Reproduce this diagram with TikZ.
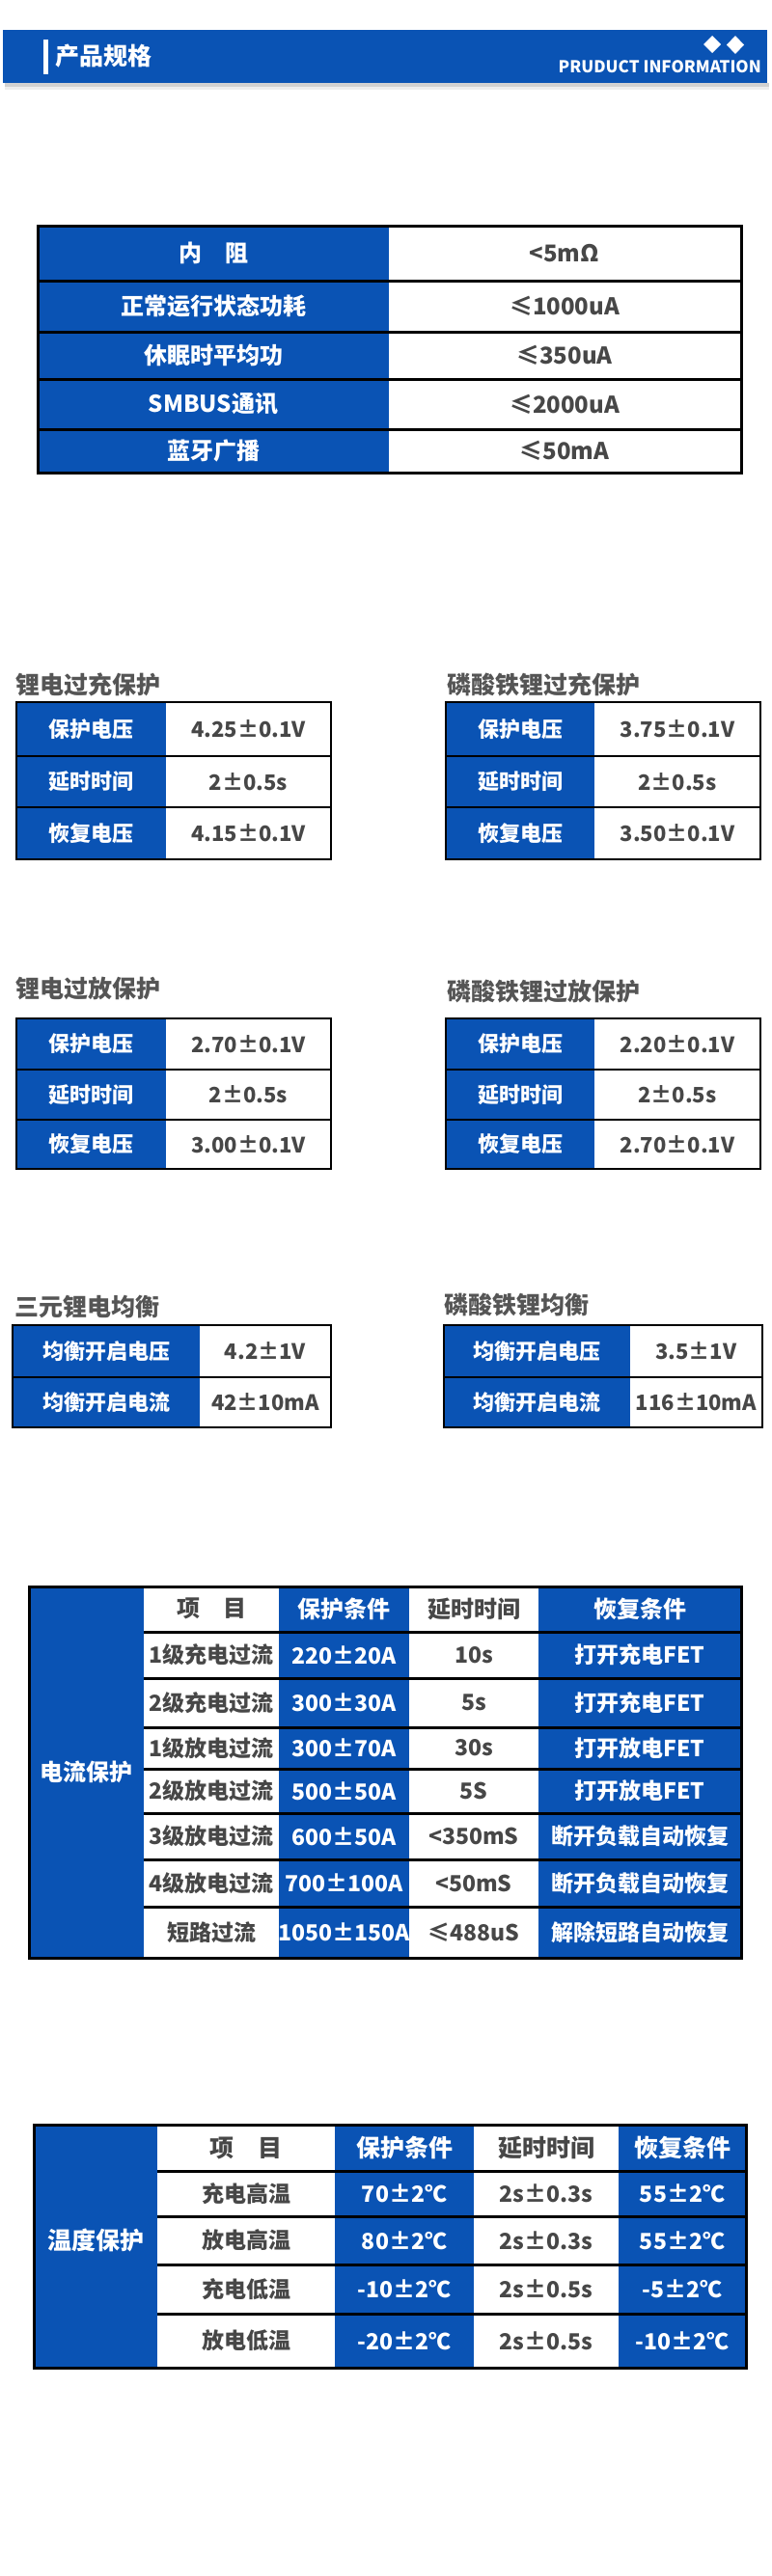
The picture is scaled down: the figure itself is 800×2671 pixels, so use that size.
\documentclass[tikz,border=0pt]{standalone}
\usepackage{fontspec}
\setmainfont{Noto Sans CJK SC}
\definecolor{specblue}{HTML}{0A53B4}
\definecolor{valgray}{HTML}{474747}
\definecolor{ttlgray}{HTML}{555555}
\tikzset{
  lab/.style={inner sep=0pt,text=white,font=\bfseries\fontsize{#1}{#1}\selectfont},
  lab/.default=22,
  val/.style={inner sep=0pt,text=valgray,font=\bfseries\fontsize{#1}{#1}\selectfont},
  val/.default=22,
  ttl/.style={inner sep=0pt,anchor=west,text=ttlgray,font=\bfseries\fontsize{25}{25}\selectfont},
  rule/.style={line width=#1},
  rule/.default=2.5pt
}
\begin{document}
\begin{tikzpicture}[x=1pt,y=-1pt]
\useasboundingbox (0,0) rectangle (800,2671);
% header band
\fill[black!18] (5,86) rectangle (797,90);
\fill[black!7] (5,90) rectangle (797,93);
\fill[specblue] (3,31) rectangle (795,86);
\fill[white] (45,41) rectangle (50,77);
\node[lab=25,anchor=west] (hdr) at (57,58) {产品规格};
\fill[white] (738,37) -- (747,46) -- (738,55) -- (729,46) -- cycle;
\fill[white] (762,37) -- (771,46.5) -- (762,56) -- (753,46.5) -- cycle;
\node[lab=17,anchor=east] (hdrsub) at (789,69) {PRUDUCT INFORMATION};
% main specs
\fill[specblue] (39,234) rectangle (403,490);
\foreach \ya/\yb/\tl/\tv [count=\i] in {234/291/{内\quad 阻}/{<5mΩ},291/344/正常运行状态功耗/{≤1000uA},
  344/393/休眠时平均功/{≤350uA},393/445/SMBUS通讯/{≤2000uA},445/490/蓝牙广播/{≤50mA}} {
  \node[lab=24] (specl\i) at (221,{(\ya+\yb)/2}) {\tl};
  \node[val=24] (specv\i) at (585,{(\ya+\yb)/2}) {\tv};
  \draw[rule=3pt] (39,\yb) -- (768,\yb);
}
\draw[rule=3pt] (39,234) rectangle (768,490);
% charge / discharge
\node[ttl] (tlic) at (16,710) {锂电过充保护};
\node[ttl] (tlfc) at (463,710) {磷酸铁锂过充保护};
\node[ttl] (tlid) at (16,1025) {锂电过放保护};
\node[ttl] (tlfd) at (463,1028) {磷酸铁锂过放保护};
\foreach \xa/\xs/\xb/\ya/\yb/\yc/\yd/\va/\vb/\vc/\nm in {
  17/172/343/728/784/837/891/{4.25±0.1V}/{2±0.5s}/{4.15±0.1V}/lic,
  462/616/788/728/784/837/891/{3.75±0.1V}/{2±0.5s}/{3.50±0.1V}/lfc,
  17/172/343/1056/1109/1161/1212/{2.70±0.1V}/{2±0.5s}/{3.00±0.1V}/lid,
  462/616/788/1056/1109/1161/1212/{2.20±0.1V}/{2±0.5s}/{2.70±0.1V}/lfd} {
  \fill[specblue] (\xa,\ya) rectangle (\xs,\yd);
  \node[lab] (\nm l1) at ({(\xa+\xs)/2},{(\ya+\yb)/2}) {保护电压};
  \node[lab] (\nm l2) at ({(\xa+\xs)/2},{(\yb+\yc)/2}) {延时时间};
  \node[lab] (\nm l3) at ({(\xa+\xs)/2},{(\yc+\yd)/2}) {恢复电压};
  \node[val] (\nm v1) at ({(\xs+\xb)/2},{(\ya+\yb)/2}) {\va};
  \node[val] (\nm v2) at ({(\xs+\xb)/2},{(\yb+\yc)/2}) {\vb};
  \node[val] (\nm v3) at ({(\xs+\xb)/2},{(\yc+\yd)/2}) {\vc};
  \draw[rule] (\xa,\yb) -- (\xb,\yb) (\xa,\yc) -- (\xb,\yc);
  \draw[rule] (\xa,\ya) rectangle (\xb,\yd);
}
% balance
\node[ttl] (tlib) at (15,1355) {三元锂电均衡};
\node[ttl] (tlfb) at (460,1353) {磷酸铁锂均衡};
\foreach \xa/\xs/\xb/\va/\vb/\nm in {13/207/343/{4.2±1V}/{42±10mA}/lib,460/653/790/{3.5±1V}/{116±10mA}/lfb} {
  \fill[specblue] (\xa,1374) rectangle (\xs,1480);
  \node[lab] (\nm l1) at ({(\xa+\xs)/2},1401) {均衡开启电压};
  \node[lab] (\nm l2) at ({(\xa+\xs)/2},1454) {均衡开启电流};
  \node[val] (\nm v1) at ({(\xs+\xb)/2},1401) {\va};
  \node[val] (\nm v2) at ({(\xs+\xb)/2},1454) {\vb};
  \draw[rule] (\xa,1428) -- (\xb,1428);
  \draw[rule] (\xa,1374) rectangle (\xb,1480);
}
% current protection
\fill[specblue] (30,1645) rectangle (149,2030);
\fill[specblue] (289,1645) rectangle (424,2030);
\fill[specblue] (558,1645) rectangle (768,2030);
\node[lab=24] (cur) at (89.5,1837) {电流保护};
\node[val=24] (curh1) at (219,1668) {项\quad 目};
\node[lab=24] (curh2) at (356.5,1668) {保护条件};
\node[val=24] (curh3) at (491,1668) {延时时间};
\node[lab=24] (curh4) at (663,1668) {恢复条件};
\foreach \ya/\yb/\ca/\cb/\cc/\cd [count=\i] in {1692/1740/1级充电过流/{220±20A}/10s/打开充电FET,
  1740/1791/2级充电过流/{300±30A}/5s/打开充电FET,1791/1834/1级放电过流/{300±70A}/30s/打开放电FET,
  1834/1880/2级放电过流/{500±50A}/5S/打开放电FET,1880/1928/3级放电过流/{600±50A}/{<350mS}/断开负载自动恢复,
  1928/1977/4级放电过流/{700±100A}/{<50mS}/断开负载自动恢复,1977/2030/短路过流/{1050±150A}/{≤488uS}/解除短路自动恢复} {
  \node[val=23] (cura\i) at (219,{(\ya+\yb)/2}) {\ca};
  \node[lab=23] (curb\i) at (356.5,{(\ya+\yb)/2}) {\cb};
  \node[val=23] (curc\i) at (491,{(\ya+\yb)/2}) {\cc};
  \node[lab=23] (curd\i) at (663,{(\ya+\yb)/2}) {\cd};
  \draw[rule=3pt] (149,\ya) -- (768,\ya);
}
\draw[rule=3pt] (30,1645) rectangle (768,2030);
% temperature protection
\fill[specblue] (35,2203) rectangle (163,2455);
\fill[specblue] (347,2203) rectangle (491,2455);
\fill[specblue] (641,2203) rectangle (773,2455);
\node[lab=25] (tmp) at (99,2323) {温度保护};
\node[val=25] (tmph1) at (255,2227) {项\quad 目};
\node[lab=25] (tmph2) at (419,2227) {保护条件};
\node[val=25] (tmph3) at (566,2227) {延时时间};
\node[lab=25] (tmph4) at (707,2227) {恢复条件};
\foreach \ya/\yb/\ca/\cb/\cc/\cd [count=\i] in {2251/2298/充电高温/{70±2℃}/{2s±0.3s}/{55±2℃},
  2298/2348/放电高温/{80±2℃}/{2s±0.3s}/{55±2℃},2348/2399/充电低温/{-10±2℃}/{2s±0.5s}/{-5±2℃},
  2399/2455/放电低温/{-20±2℃}/{2s±0.5s}/{-10±2℃}} {
  \node[val=23] (tmpa\i) at (255,{(\ya+\yb)/2}) {\ca};
  \node[lab=23] (tmpb\i) at (419,{(\ya+\yb)/2}) {\cb};
  \node[val=23] (tmpc\i) at (566,{(\ya+\yb)/2}) {\cc};
  \node[lab=23] (tmpd\i) at (707,{(\ya+\yb)/2}) {\cd};
  \draw[rule=3pt] (163,\ya) -- (773,\ya);
}
\draw[rule=3pt] (35,2203) rectangle (773,2455);
\end{tikzpicture}
\end{document}
